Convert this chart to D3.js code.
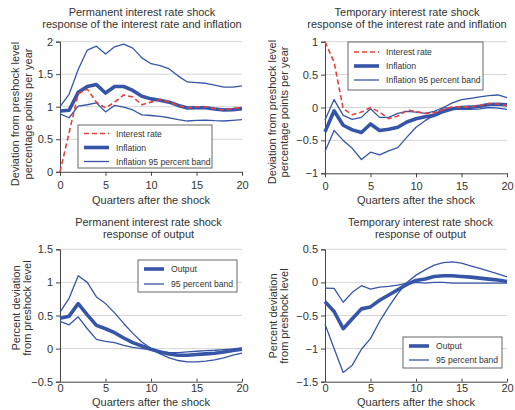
<!DOCTYPE html>
<html>
<head>
<meta charset="utf-8">
<script src="https://cdn.jsdelivr.net/npm/d3@7"></script>
<style>
  html, body { margin: 0; padding: 0; background: #fff; }
  svg { display: block; font-family: "Liberation Sans", Arial, sans-serif; }
</style>
</head>
<body>
<svg id="chart" width="515" height="410"></svg>
<script>
// Quarters after the shock
const quarters = d3.range(0, 21);
const xTicks = [0, 5, 10, 15, 20];

// Permanent interest rate shock: interest rate and inflation
const permRate = [0, 0.6, 1.2, 1.27, 1.07, 0.98, 1.07, 1.18, 1.15, 1.03, 1.07, 1.11, 1.07, 1.02, 0.98, 1.0, 1.0, 0.97, 0.95, 0.97, 0.99];
const permInfl = [0.935, 0.945, 1.22, 1.31, 1.34, 1.21, 1.31, 1.31, 1.25, 1.16, 1.12, 1.1, 1.07, 1.02, 0.98, 0.985, 0.985, 0.965, 0.95, 0.955, 0.97];
const permInflHi = [1.0, 1.19, 1.57, 1.87, 1.93, 1.81, 1.92, 1.96, 1.9, 1.75, 1.66, 1.63, 1.58, 1.47, 1.38, 1.37, 1.36, 1.33, 1.3, 1.3, 1.32];
const permInflLo = [0.89, 0.83, 1.01, 1.03, 1.06, 0.92, 1.02, 0.995, 0.95, 0.875, 0.865, 0.85, 0.83, 0.8, 0.78, 0.79, 0.795, 0.785, 0.78, 0.79, 0.8];
const permTicks = [0, 0.5, 1, 1.5, 2];

// Temporary interest rate shock: interest rate and inflation
const tempRate = [1.0, 0.69, -0.02, -0.11, -0.07, 0.0, -0.07, -0.17, -0.13, -0.04, -0.06, -0.09, -0.08, -0.03, 0.01, 0.01, 0.01, 0.03, 0.06, 0.055, 0.03];
const tempInfl = [-0.37, -0.05, -0.27, -0.34, -0.38, -0.25, -0.35, -0.33, -0.3, -0.22, -0.17, -0.14, -0.12, -0.06, -0.02, 0.0, 0.005, 0.02, 0.045, 0.05, 0.04];
const tempInflBandA = [-0.67, -0.35, -0.5, -0.62, -0.79, -0.68, -0.72, -0.66, -0.61, -0.45, -0.3, -0.2, -0.12, 0.0, 0.07, 0.12, 0.14, 0.16, 0.18, 0.19, 0.15];
const tempInflBandB = [-0.19, 0.12, -0.12, -0.18, -0.15, -0.02, -0.15, -0.15, -0.09, -0.06, -0.07, -0.09, -0.06, 0.0, -0.02, -0.03, -0.03, -0.02, 0.0, -0.01, -0.03];
const tempTicks = [-1, -0.5, 0, 0.5, 1];

// Permanent interest rate shock: output
const permOut = [0.46, 0.49, 0.68, 0.51, 0.35, 0.3, 0.24, 0.16, 0.09, 0.04, -0.01, -0.05, -0.08, -0.1, -0.1, -0.09, -0.08, -0.07, -0.05, -0.03, -0.01];
const permOutBandA = [0.55, 0.76, 1.1, 1.0, 0.78, 0.68, 0.54, 0.38, 0.23, 0.1, 0.0, -0.08, -0.14, -0.18, -0.2, -0.2, -0.19, -0.17, -0.14, -0.1, -0.07];
const permOutBandB = [0.41, 0.36, 0.48, 0.3, 0.14, 0.11, 0.09, 0.05, 0.02, 0.0, -0.02, -0.04, -0.06, -0.06, -0.05, -0.04, -0.03, -0.025, -0.015, -0.005, 0.01];
const permOutTicks = [-0.5, 0, 0.5, 1, 1.5];

// Temporary interest rate shock: output
const tempOut = [-0.29, -0.44, -0.7, -0.55, -0.4, -0.37, -0.27, -0.19, -0.11, -0.03, 0.03, 0.05, 0.09, 0.1, 0.1, 0.09, 0.08, 0.065, 0.05, 0.035, 0.015];
const tempOutBandA = [-0.63, -1.0, -1.36, -1.25, -1.01, -0.85, -0.59, -0.37, -0.17, 0.0, 0.11, 0.19, 0.26, 0.3, 0.31, 0.29, 0.25, 0.21, 0.17, 0.13, 0.085];
const tempOutBandB = [-0.085, -0.09, -0.3, -0.15, -0.05, -0.1, -0.07, -0.06, -0.04, -0.01, 0.0, -0.01, 0.0, 0.0, -0.01, -0.01, -0.01, -0.01, -0.01, -0.01, -0.01];
const tempOutTicks = [-1.5, -1, -0.5, 0, 0.5];

const BLUE = "#3755a8";
const RED = "#e2413c";
const GRID = "#d6d6d6";
const AXIS = "#444";
const TEXT = "#333";

const styles = {
  rate: { stroke: RED, width: 1.6, dash: "5,3" },
  main: { stroke: BLUE, width: 3.6, dash: null },
  band: { stroke: BLUE, width: 1.3, dash: null }
};

const svg = d3.select("#chart");
const fmt = d3.format("");

function drawPanel(p) {
  const g = svg.append("g");
  const x = d3.scaleLinear().domain([0, 20]).range([p.left, p.right]);
  const y = d3.scaleLinear().domain([p.ticks[0], p.ticks[p.ticks.length - 1]]).range([p.bottom, p.top]);

  // titles
  p.title.forEach((t, i) => {
    g.append("text").attr("x", p.titleX).attr("y", p.titleY + i * 12.3)
      .attr("text-anchor", "middle").attr("font-size", 11).attr("fill", TEXT).text(t);
  });

  // horizontal gridlines
  g.append("g").selectAll("line").data(p.ticks.slice(1)).join("line")
    .attr("x1", p.left).attr("x2", p.right)
    .attr("y1", d => y(d)).attr("y2", d => y(d))
    .attr("stroke", GRID).attr("stroke-width", 1);

  // y axis
  const yAxis = g.append("g").attr("transform", `translate(${p.left},0)`)
    .call(d3.axisLeft(y).tickValues(p.ticks).tickFormat(fmt).tickSizeOuter(0).tickSize(4).tickPadding(3));
  yAxis.select(".domain").attr("stroke", AXIS);
  yAxis.selectAll(".tick line").attr("stroke", AXIS);
  yAxis.selectAll("text").attr("font-size", 11).attr("fill", TEXT).attr("font-family", "Liberation Sans, Arial, sans-serif");

  // x axis
  const xAxis = g.append("g").attr("transform", `translate(0,${p.bottom})`)
    .call(d3.axisBottom(x).tickValues(xTicks).tickFormat(fmt).tickSizeOuter(0)
      .tickSizeInner(p.xTickSize).tickPadding(p.xTickPad));
  xAxis.select(".domain").attr("stroke", AXIS);
  xAxis.selectAll(".tick line").attr("stroke", AXIS);
  xAxis.selectAll("text").attr("font-size", 11).attr("fill", TEXT).attr("font-family", "Liberation Sans, Arial, sans-serif");

  g.append("text").attr("x", (p.left + p.right) / 2).attr("y", p.bottom + p.xTitleOffset)
    .attr("text-anchor", "middle").attr("font-size", 11).attr("fill", TEXT)
    .text("Quarters after the shock");

  // y axis title, two rotated lines
  p.yTitle.forEach((t, i) => {
    g.append("text")
      .attr("transform", `translate(${p.yTitleX[i]},${p.yTitleY}) rotate(-90)`)
      .attr("text-anchor", "middle").attr("font-size", 11).attr("fill", TEXT).text(t);
  });

  // series
  const line = d3.line().x((d, i) => x(quarters[i])).y(d => y(d));
  p.series.forEach(s => {
    const st = styles[s.kind];
    g.append("path").datum(s.values).attr("d", line)
      .attr("fill", "none").attr("stroke", st.stroke).attr("stroke-width", st.width)
      .attr("stroke-dasharray", st.dash).attr("stroke-linejoin", "round");
  });

  // legend
  const L = p.legend;
  const lg = g.append("g");
  lg.append("rect").attr("x", L.x).attr("y", L.y).attr("width", L.w).attr("height", L.h)
    .attr("fill", "#fff").attr("stroke", "#666").attr("stroke-width", 1);
  L.items.forEach((it, i) => {
    const st = styles[it.kind];
    const cy = L.y + L.first + i * L.step;
    lg.append("line").attr("x1", L.x + L.pad).attr("x2", L.x + L.pad + L.sample)
      .attr("y1", cy).attr("y2", cy)
      .attr("stroke", st.stroke).attr("stroke-width", st.width).attr("stroke-dasharray", st.dash);
    lg.append("text").attr("x", L.x + L.pad + L.sample + 7).attr("y", cy + 3.2)
      .attr("font-size", 8.6).attr("fill", TEXT).text(it.label);
  });
}

drawPanel({
  left: 60, right: 242, top: 41.6, bottom: 171.8, ticks: permTicks,
  xTickSize: 4, xTickPad: 5, xTitleOffset: 32,
  title: ["Permanent interest rate shock", "response of the interest rate and inflation"],
  titleX: 142, titleY: 15.5,
  yTitle: ["Deviation from preshock level", "percentage points  per year"], yTitleX: [19, 32], yTitleY: 114,
  series: [
    { kind: "band", values: permInflHi },
    { kind: "band", values: permInflLo },
    { kind: "main", values: permInfl },
    { kind: "rate", values: permRate }
  ],
  legend: { x: 78, y: 125, w: 134, h: 43, first: 8.5, step: 14, pad: 6, sample: 25,
    items: [{ kind: "rate", label: "Interest rate" }, { kind: "main", label: "Inflation" }, { kind: "band", label: "Inflation 95 percent band" }] }
});

drawPanel({
  left: 325, right: 507, top: 41.7, bottom: 173.3, ticks: tempTicks,
  xTickSize: 4, xTickPad: 5, xTitleOffset: 31,
  title: ["Temporary interest rate shock", "response of the interest rate and inflation"],
  titleX: 407, titleY: 15.5,
  yTitle: ["Deviation from preshock level", "percentage points  per year"], yTitleX: [276, 288], yTitleY: 112,
  series: [
    { kind: "band", values: tempInflBandA },
    { kind: "band", values: tempInflBandB },
    { kind: "main", values: tempInfl },
    { kind: "rate", values: tempRate }
  ],
  legend: { x: 348, y: 42, w: 135, h: 48, first: 10, step: 14, pad: 6, sample: 25,
    items: [{ kind: "rate", label: "Interest rate" }, { kind: "main", label: "Inflation" }, { kind: "band", label: "Inflation 95 percent band" }] }
});

drawPanel({
  left: 60, right: 242, top: 249.3, bottom: 381.7, ticks: permOutTicks,
  xTickSize: -3, xTickPad: 3, xTitleOffset: 24.5,
  title: ["Permanent interest rate shock", "response of output"],
  titleX: 148.5, titleY: 225.5,
  yTitle: ["Percent deviation", "from preshock level"], yTitleX: [20, 31], yTitleY: 308,
  series: [
    { kind: "band", values: permOutBandA },
    { kind: "band", values: permOutBandB },
    { kind: "main", values: permOut }
  ],
  legend: { x: 138, y: 260, w: 99, h: 32, first: 9, step: 15, pad: 6, sample: 20,
    items: [{ kind: "main", label: "Output" }, { kind: "band", label: "95 percent band" }] }
});

drawPanel({
  left: 325, right: 507, top: 249.3, bottom: 381.7, ticks: tempOutTicks,
  xTickSize: -3, xTickPad: 3, xTitleOffset: 24.5,
  title: ["Temporary interest rate shock", "response of output"],
  titleX: 420.5, titleY: 225.5,
  yTitle: ["Percent deviation", "from preshock level"], yTitleX: [277, 288], yTitleY: 316,
  series: [
    { kind: "band", values: tempOutBandA },
    { kind: "band", values: tempOutBandB },
    { kind: "main", values: tempOut }
  ],
  legend: { x: 403, y: 337, w: 99, h: 31, first: 9, step: 14, pad: 6, sample: 20,
    items: [{ kind: "main", label: "Output" }, { kind: "band", label: "95 percent band" }] }
});
</script>
</body>
</html>
